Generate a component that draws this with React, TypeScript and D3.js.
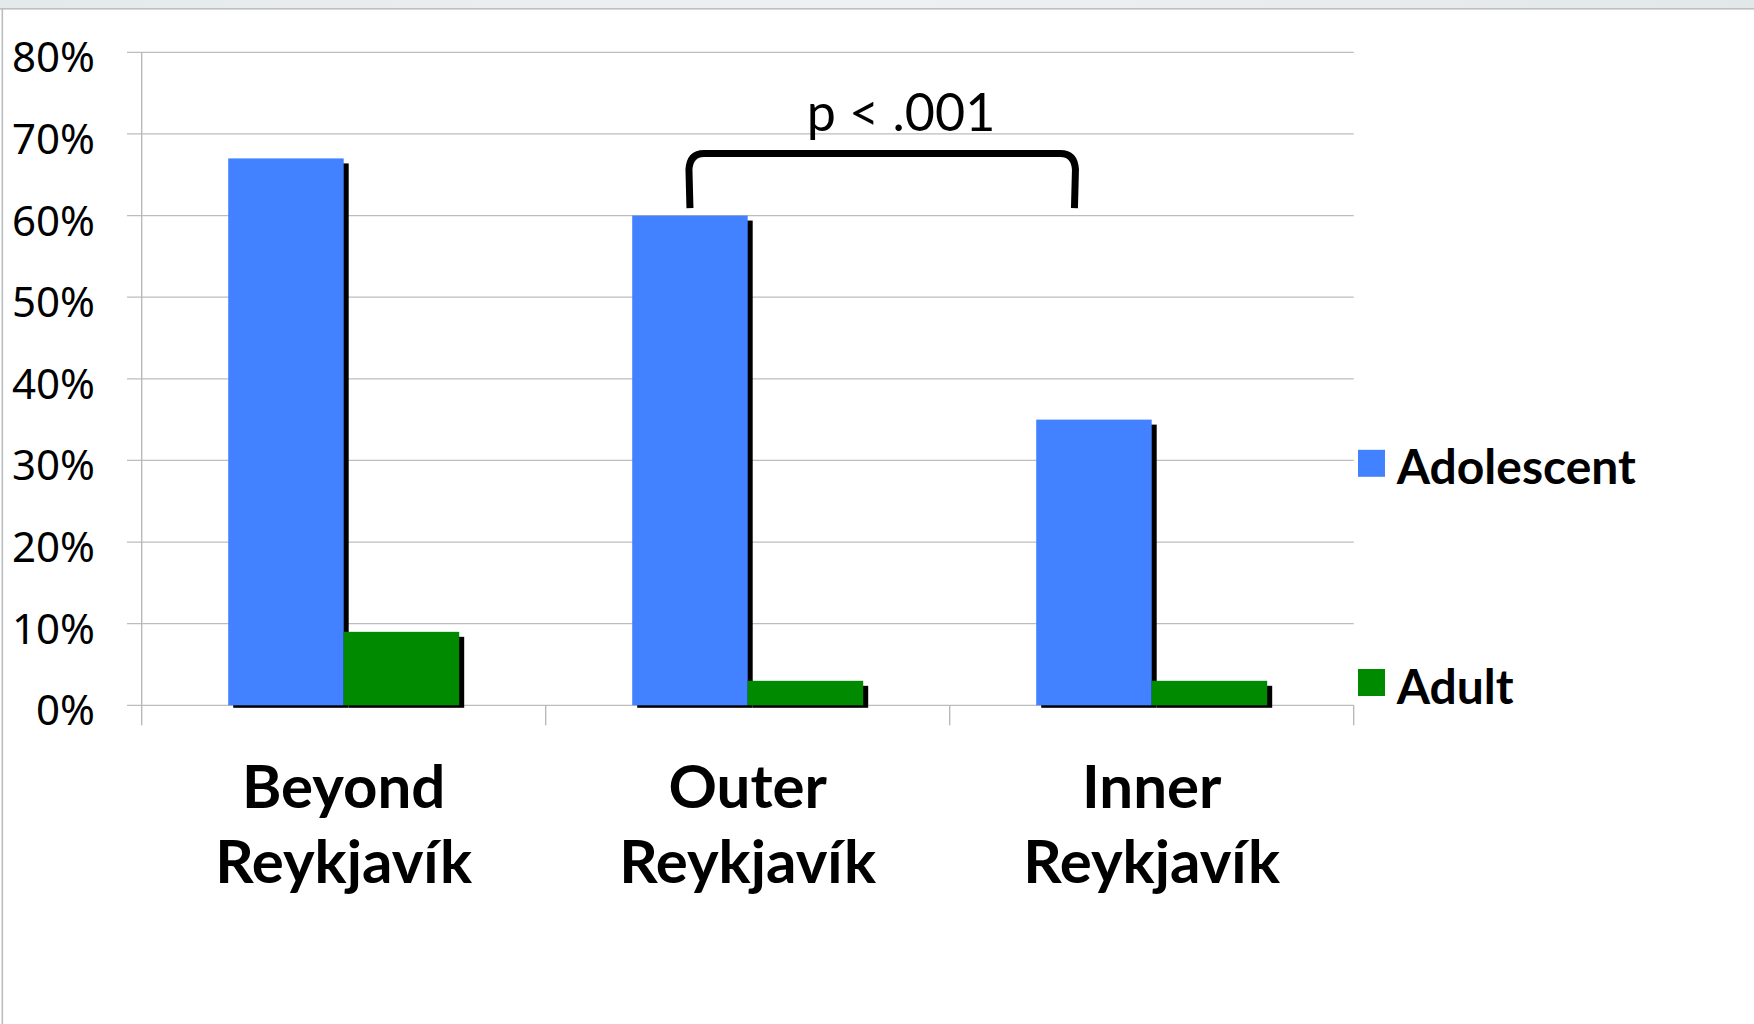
import React from "react";
import * as d3 from "d3";

const categories = ["Beyond", "Outer", "Inner"];
const categoryLine2 = ["Reykjavík", "Reykjavík", "Reykjavík"];
const seriesNames = ["Adolescent", "Adult"];
const adolescent = [0.67, 0.6, 0.35];
const adult = [0.09, 0.03, 0.03];
const yTicks = [0, 0.1, 0.2, 0.3, 0.4, 0.5, 0.6, 0.7, 0.8];
const colors = ["#4281FF", "#008A00"];
const pLabel = "p < .001";
const bracketTopVal = 0.676;
const bracketBottomVal = 0.609;
const pLabelVal = 0.703;

export default function App() {
  const W = 1754;
  const H = 1024;
  const y = d3.scaleLinear().domain([0, 0.8]).range([705.3, 52.3]);
  const x0 = d3.scaleBand<string>().domain(categories).range([141.7, 1353.7]).paddingInner(0).paddingOuter(0);
  const x1 = d3.scaleBand<string>().domain(seriesNames).range([0, x0.bandwidth()]).paddingInner(0).paddingOuter(0.749);
  const bw = x1.bandwidth();
  const values = [adolescent, adult];
  const fmt = d3.format(".0%");

  const bars: JSX.Element[] = [];
  categories.forEach((c, i) => {
    seriesNames.forEach((s, j) => {
      const v = values[j][i];
      const bx = (x0(c) as number) + (x1(s) as number);
      const by = y(v);
      const h = y(0) - by;
      bars.push(
        <g key={c + s}>
          <rect x={bx + 5} y={by + 5} width={bw} height={h - 2.5} fill="#000" />
          <rect x={bx} y={by} width={bw} height={h} fill={colors[j]} />
        </g>
      );
    });
  });

  const L = (x0("Outer") as number) + (x1("Adolescent") as number) + bw / 2;
  const R = (x0("Inner") as number) + (x1("Adolescent") as number) + bw / 2 - 19.5;
  const T = y(bracketTopVal);
  const B = y(bracketBottomVal);
  const bracket = `M${L},${B} L${L - 1},${T + 16} Q${L},${T} ${L + 14},${T} L${R - 14},${T} Q${R},${T} ${R + 1},${T + 16} L${R},${B}`;

  const xLeft = x0.range()[0];
  const xRight = x0.range()[1];
  const boundaries = [xLeft, ...categories.slice(1).map((c) => x0(c) as number), xRight];

  return (
    <div style={{ position: "fixed", left: 0, top: 0, width: W, height: H, background: "#fff" }}>
      <svg width={W} height={H} style={{ display: "block" }}>
        <defs>
          <linearGradient id="topbar" x1="0" x2="1" y1="0" y2="0">
            <stop offset="0" stopColor="#e4e9ec" />
            <stop offset="0.5" stopColor="#eef1f3" />
            <stop offset="1" stopColor="#e2e7ea" />
          </linearGradient>
        </defs>
        <rect x={0} y={0} width={W} height={H} fill="#fff" />
        <rect x={0} y={0} width={W} height={8} fill="url(#topbar)" />
        <rect x={0} y={8} width={W} height={1.6} fill="#bfbfbf" />
        <rect x={1.5} y={9} width={1.6} height={H} fill="#b9bdc1" />

        {yTicks.map((t) => (
          <line key={t} x1={127} x2={xRight} y1={y(t)} y2={y(t)} stroke="#bdbdbd" strokeWidth={1.3} />
        ))}
        <line x1={xLeft} x2={xLeft} y1={y(0.8)} y2={y(0) + 20} stroke="#b5b5b5" strokeWidth={1.3} />
        {boundaries.slice(1).map((bx, i) => (
          <line key={i} x1={bx} x2={bx} y1={y(0)} y2={y(0) + 20} stroke="#b5b5b5" strokeWidth={1.3} />
        ))}
        {yTicks.map((t) => (
          <text key={t} x={95} y={y(t) + 20} textAnchor="end" fontFamily="'Noto Sans', 'Open Sans', sans-serif" fontSize={42} fill="#000">
            {fmt(t)}
          </text>
        ))}

        {bars}

        <path d={bracket} fill="none" stroke="#000" strokeWidth={7} />
        <text x={901} y={y(pLabelVal)} textAnchor="middle" fontFamily="Lato, 'Open Sans', sans-serif" fontSize={52} fill="#000">
          {pLabel}
        </text>

        {categories.map((c, i) => {
          const cx = (x0(c) as number) + x0.bandwidth() / 2;
          return (
            <text key={c} x={cx} textAnchor="middle" fontFamily="Lato, 'Open Sans', sans-serif" fontWeight="bold" fontSize={60} fill="#000">
              <tspan x={cx} y={808}>{c}</tspan>
              <tspan x={cx} y={882.7}>{categoryLine2[i]}</tspan>
            </text>
          );
        })}

        {seriesNames.map((s, j) => {
          const cy = j === 0 ? 463.3 : 682.5;
          return (
            <g key={s}>
              <rect x={1358} y={cy - 13.5} width={27} height={27} fill={colors[j]} />
              <text x={1396.7} y={cy + 21} fontFamily="Lato, 'Open Sans', sans-serif" fontWeight="bold" fontSize={48} fill="#000">
                {s}
              </text>
            </g>
          );
        })}
      </svg>
    </div>
  );
}
